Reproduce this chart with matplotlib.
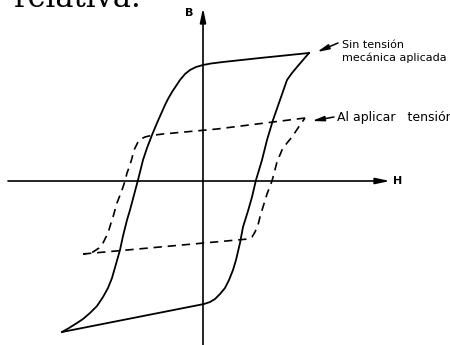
import matplotlib
matplotlib.use('Agg')
import matplotlib.pyplot as plt

plt.rcParams['font.family'] = ['DejaVu Sans']
plt.rcParams['savefig.dpi'] = 100
plt.rcParams['figure.dpi'] = 100

# Loop without mechanical tension (H, B in arbitrary units)
solid_down_h = [106, 57, 20, 8, 0, -7, -13, -18, -23, -27, -31, -35, -38, -42, -46, -51, -56, -60, -65,
                -69, -73, -76, -80, -83, -87, -91, -95, -100, -106, -113, -120, -126, -134, -141]
solid_down_b = [128, 123, 119, 117.5, 116, 114, 111, 107, 101, 95, 89, 82, 76, 67, 58, 46, 33, 21, 1,
                -14, -29, -39, -55, -69, -83, -97, -107, -116, -125, -132, -138, -142, -147, -151]
solid_up_h = [-141, 1, 7, 12, 17, 22, 26, 30, 33, 37, 40, 45, 49, 53, 59, 64, 70, 77, 84, 89, 94, 100, 106]
solid_up_b = [-151, -123, -121, -118, -113, -107, -99, -89, -79, -62, -46, -30, -16, 1, 21, 41, 61, 81,
              101, 108, 114, 121, 128]

# Loop with tension applied
dash_down_h = [102, 14, -40, -52, -58, -62, -65, -67, -69, -71, -73, -76, -78, -81, -86, -90, -92, -95,
               -98, -100, -104, -110, -115, -120]
dash_down_b = [63, 52, 47, 45.5, 44, 42, 39, 35, 31, 23, 16, 8, 0, -9, -22, -36, -42, -52,
               -58, -62, -67, -71, -72.5, -73]
dash_up_h = [-120, 1, 45, 49, 52, 55, 57, 60, 64, 69, 74, 79, 84, 89, 93, 97, 102]
dash_up_b = [-73, -62, -58, -56, -51, -44, -36, -26, -13, 0, 19, 31, 38, 44, 50, 56, 63]

axis_labels = ['H', 'B']
label_free = ['Sin tensión', 'mecánica aplicada']
label_tension = 'Al aplicar   tensión'

fig = plt.figure(figsize=(4.5, 3.45))
ax = fig.add_axes([0, 0, 1, 1])
ax.set_xlim(-203, 247)
ax.set_ylim(-164, 181)
ax.axis('off')

# axes with arrows
axis_arrow = dict(arrowstyle='-|>,head_length=0.85,head_width=0.18', lw=1.2, color='k', shrinkA=0, shrinkB=0)
ax.annotate('', xy=(187, 0), xytext=(-195, 0), arrowprops=axis_arrow)
ax.annotate('', xy=(0, 173), xytext=(0, -164), arrowprops=axis_arrow)
ax.text(195, 0, axis_labels[0], fontsize=8, fontweight='bold', ha='center', va='center')
ax.text(-14, 168, axis_labels[1], fontsize=8, fontweight='bold', ha='center', va='center')

ax.plot(solid_down_h, solid_down_b, color='k', lw=1.3, solid_joinstyle='round')
ax.plot(solid_up_h, solid_up_b, color='k', lw=1.3, solid_joinstyle='round')
ax.plot(dash_down_h, dash_down_b, color='k', lw=1.2, dashes=(5, 3.5))
ax.plot(dash_up_h, dash_up_b, color='k', lw=1.2, dashes=(5, 3.5))

# callouts
arrow_kw = dict(arrowstyle='-|>,head_length=0.7,head_width=0.15', lw=1.1, color='k', shrinkA=0, shrinkB=0)
ax.annotate('', xy=(114, 129), xytext=(135, 138), arrowprops=arrow_kw)
ax.text(139, 136, label_free[0], fontsize=8, ha='left', va='center')
ax.text(139, 123, label_free[1], fontsize=8, ha='left', va='center')
ax.annotate('', xy=(109, 60), xytext=(131, 64), arrowprops=arrow_kw)
ax.text(134, 63, label_tension, fontsize=9, ha='left', va='center')

# leftover of the page text above the figure
fig.text(14 / 450, 1 - 7 / 345, 'relativa.', family='DejaVu Serif', fontsize=22, ha='left', va='baseline')

fig.savefig('out.png', dpi=100)
